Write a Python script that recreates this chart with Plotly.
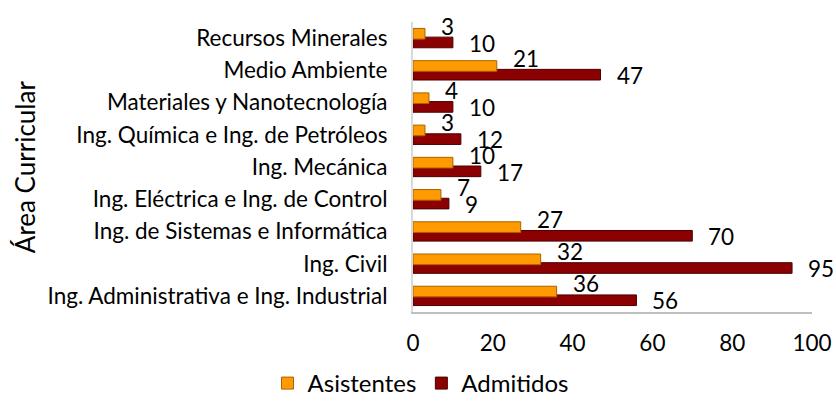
import plotly.graph_objects as go

# categories listed bottom -> top (plotly draws first category at the bottom)
areas = [
    "Ing. Administrativa e Ing. Industrial",
    "Ing. Civil",
    "Ing. de Sistemas e Informática",
    "Ing. Eléctrica e Ing. de Control",
    "Ing. Mecánica",
    "Ing. Química e Ing. de Petróleos",
    "Materiales y Nanotecnología",
    "Medio Ambiente",
    "Recursos Minerales",
]
asistentes = [36, 32, 27, 7, 10, 3, 4, 21, 3]
admitidos = [56, 95, 70, 9, 17, 12, 10, 47, 10]
x_ticks = [0, 20, 40, 60, 80, 100]

FONT = "Lato"
FS = 22.5
ORANGE = "#FF9A00"
DARKRED = "#8B0000"

fig = go.Figure()

fig.add_trace(go.Bar(
    y=areas, x=admitidos, orientation="h", name="Admitidos",
    width=0.33, offset=-0.30,
    marker=dict(color=DARKRED, line=dict(color="#4d0000", width=1)),
    hoverinfo="x+y",
))
fig.add_trace(go.Bar(
    y=areas, x=asistentes, orientation="h", name="Asistentes",
    width=0.33, offset=-0.03,
    marker=dict(color=ORANGE, line=dict(color="#a86400", width=1)),
    hoverinfo="x+y",
))

# data labels (Excel style: outside end, offset for the 3D depth)
for cat, a, b in zip(areas, asistentes, admitidos):
    fig.add_annotation(x=a, y=cat, text=str(a), showarrow=False,
                       xanchor="left", yanchor="middle", xshift=14, yshift=12,
                       font=dict(family=FONT, size=FS, color="#000000"))
    fig.add_annotation(x=b, y=cat, text=str(b), showarrow=False,
                       xanchor="left", yanchor="middle", xshift=14, yshift=-5,
                       font=dict(family=FONT, size=FS, color="#000000"))

# y axis title
fig.add_annotation(
    text="Área Curricular", textangle=-90,
    xref="paper", yref="paper", x=-0.972, y=0.5,
    xanchor="center", yanchor="middle", showarrow=False,
    font=dict(family=FONT, size=26, color="#000000"),
)

fig.update_layout(
    width=836, height=406,
    barmode="overlay",
    plot_bgcolor="white", paper_bgcolor="white",
    margin=dict(l=413, r=24, t=22, b=94),
    font=dict(family=FONT, size=FS, color="#000000"),
    showlegend=True,
    legend=dict(
        orientation="h", traceorder="reversed",
        xref="container", yref="container",
        x=0.503, xanchor="center", y=0.0, yanchor="bottom",
        font=dict(family=FONT, size=24),
        itemwidth=30,
    ),
    xaxis=dict(
        range=[0, 100], tickvals=x_ticks, showgrid=False, zeroline=False,
        showline=True, linecolor="#bfbfbf", linewidth=2,
        ticks="", ticklabelstandoff=10, automargin=False,
        tickfont=dict(family=FONT, size=FS),
    ),
    yaxis=dict(
        showgrid=False, zeroline=False,
        showline=True, linecolor="#d9d9d9", linewidth=2,
        ticks="", ticklabelstandoff=19, automargin=False,
        tickfont=dict(family=FONT, size=FS),
        range=[-0.5, 8.5],
    ),
)

fig.write_html("out.html", config={"displayModeBar": False},
               post_script="document.body.style.margin='0';")
